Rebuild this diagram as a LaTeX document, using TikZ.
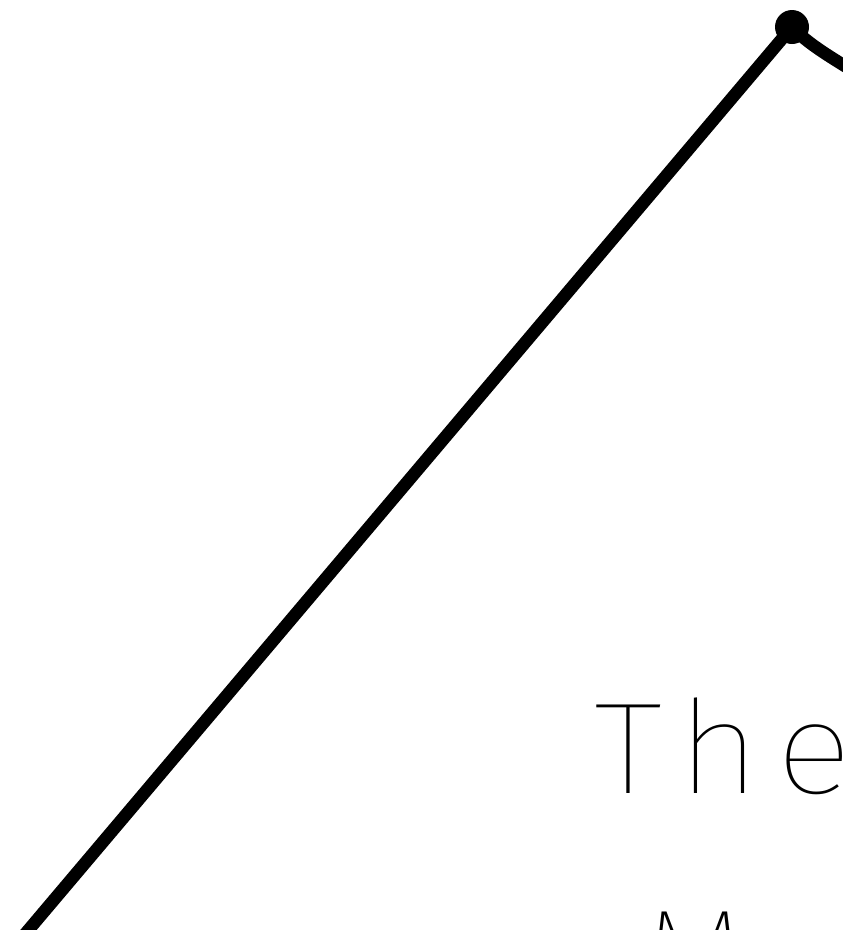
\documentclass[tikz,border=0pt]{standalone}
\usepackage{fontspec}
\newfontfamily\hand{Fira Sans Thin}[LetterSpace=12, FakeStretch=1.1]
\tikzset{
  thickline/.style={line width=12.5pt, line cap=round, black},
  handtext/.style={font=\hand\fontsize{130}{150}\selectfont, inner sep=0pt, anchor=base west}
}
\begin{document}
\begin{tikzpicture}[x=1pt,y=-1pt]
\useasboundingbox (0,0) rectangle (843,930);
\clip (0,0) rectangle (843,930);
\coordinate (bot) at (20,940);
\coordinate (top) at (792,27);
\coordinate (rend) at (875,85);
\draw[thickline] (bot) -- (top);
\draw[thickline] (top) .. controls (812,48) and (840,62) .. (rend);
\node[circle, fill=black, minimum size=34pt, inner sep=0pt] (dot) at (top) {};
\node[handtext] (the) at (594,793) {The};
\node[handtext] (mo) at (640,1000) {Mo};
\end{tikzpicture}
\end{document}
